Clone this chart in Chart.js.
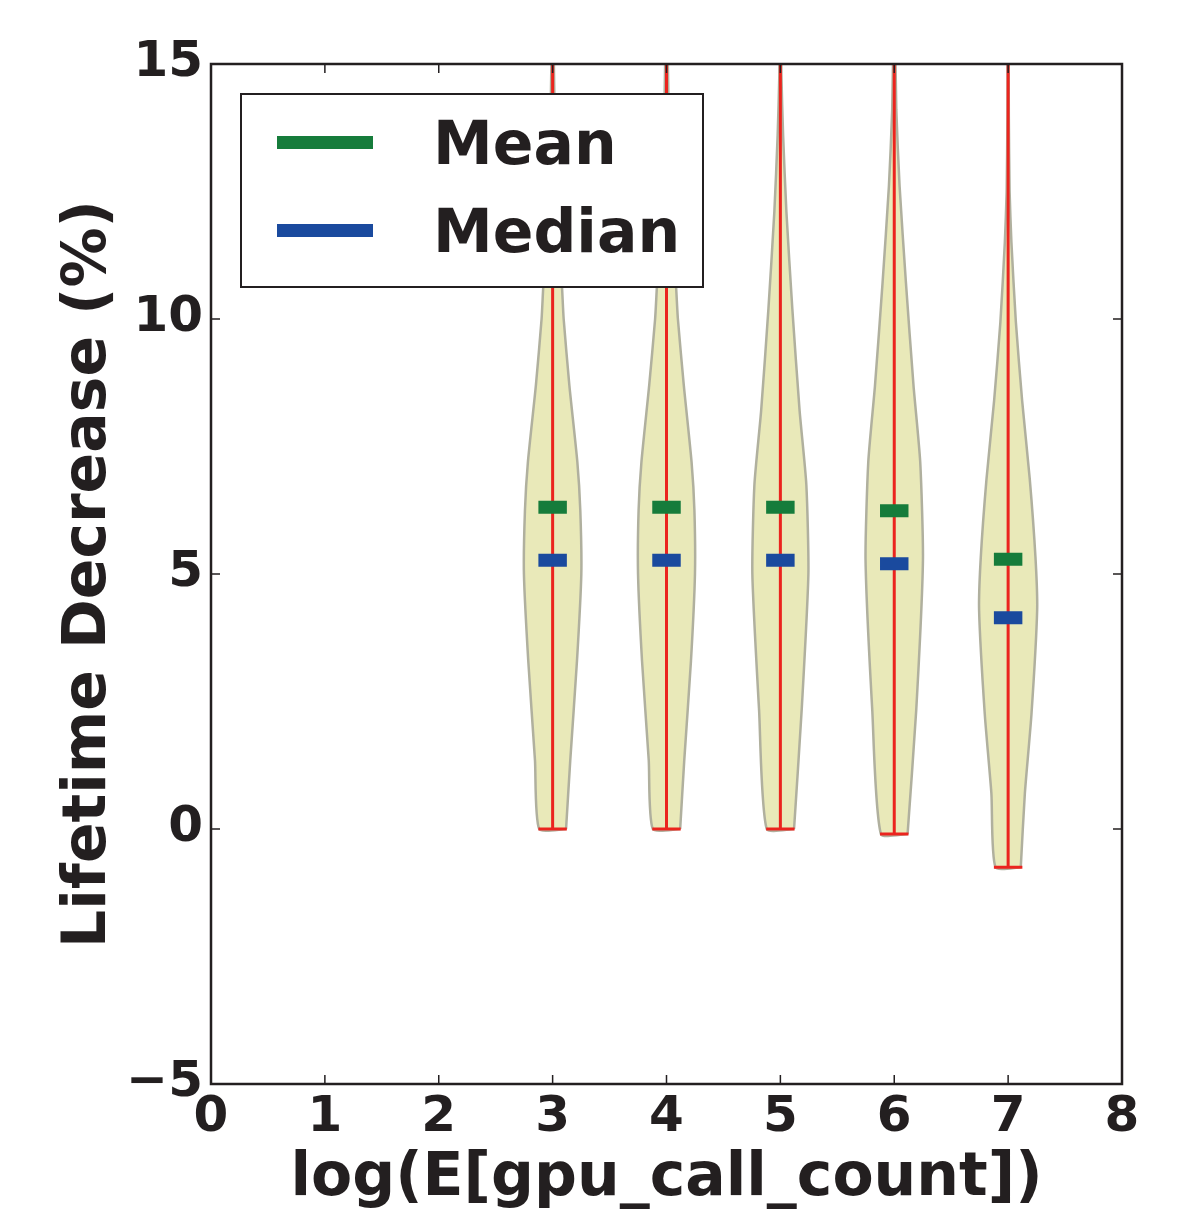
<!DOCTYPE html>
<html>
<head>
<meta charset="utf-8">
<script src="https://cdn.jsdelivr.net/npm/chart.js@4.4.0/dist/chart.umd.min.js"></script>
<style>
  html, body { margin: 0; padding: 0; background: #fff; }
</style>
</head>
<body>
<canvas id="violin-chart" width="1179" height="1216"></canvas>
<script>
// positions on the x axis (log of expected gpu call count)
const positions = [3, 4, 5, 6, 7];
const means = [6.31, 6.31, 6.31, 6.24, 5.29];
const medians = [5.27, 5.27, 5.27, 5.20, 4.14];
const mins = [0, 0, 0, -0.1, -0.75];
const maxs = [16, 16, 16, 16, 16];

// violin outlines: y levels and half widths (in x units)
const levels3 = [0, 1.35, 3.3, 5, 6.25, 7.2, 8.7, 10, 10.6, 12, 13.5, 15, 16];
const widths3 = [0.118, 0.155, 0.214, 0.252, 0.243, 0.217, 0.147, 0.097, 0.083, 0.044, 0.022, 0.011, 0.004];
const levels4 = [0, 1.35, 3.3, 5, 6.25, 7.2, 8.7, 10, 10.6, 12, 13.5, 15, 16];
const widths4 = [0.12, 0.156, 0.215, 0.25, 0.245, 0.22, 0.152, 0.1, 0.085, 0.048, 0.024, 0.012, 0.004];
const levels5 = [0, 2.33, 5, 6.75, 8.2, 10.2, 12.1, 13.6, 14.8, 16];
const widths5 = [0.12, 0.187, 0.246, 0.228, 0.169, 0.105, 0.053, 0.024, 0.009, 0.004];
const levels6 = [-0.1, 2.33, 5.27, 7.2, 8.7, 10.7, 12.6, 14.1, 16];
const widths6 = [0.117, 0.193, 0.252, 0.228, 0.169, 0.103, 0.047, 0.018, 0.004];
const levels7 = [-0.75, 0.7, 2.25, 4.3, 5.33, 6.86, 8.4, 9.94, 11.5, 12.5, 14, 16];
const widths7 = [0.111, 0.147, 0.205, 0.255, 0.24, 0.19, 0.123, 0.068, 0.029, 0.013, 0.006, 0.003];

const xTicks = [0, 1, 2, 3, 4, 5, 6, 7, 8];
const yTicks = [-5, 0, 5, 10, 15];

const allLevels = [levels3, levels4, levels5, levels6, levels7];
const allWidths = [widths3, widths4, widths5, widths6, widths7];

const ink = '#231f20';
const capHalf = 0.125;

function violinPoints(x, lv, wd) {
    const pts = [];
    for (let i = 0; i < lv.length; i++) pts.push({x: x + wd[i], y: lv[i]});
    for (let i = lv.length - 1; i >= 0; i--) pts.push({x: x - wd[i], y: lv[i]});
    pts.push({x: x + wd[0], y: lv[0]});
    return pts;
}

function barPoints(vals) {
    const pts = [];
    for (let i = 0; i < positions.length; i++) {
        pts.push({x: positions[i] - capHalf, y: vals[i]});
        pts.push({x: positions[i] + capHalf, y: vals[i]});
        pts.push({x: positions[i] + 0.5, y: null});
    }
    return pts;
}

const rangePts = [];
for (let i = 0; i < positions.length; i++) {
    rangePts.push({x: positions[i], y: mins[i]});
    rangePts.push({x: positions[i], y: maxs[i]});
    rangePts.push({x: positions[i], y: null});
    rangePts.push({x: positions[i] - capHalf, y: mins[i]});
    rangePts.push({x: positions[i] + capHalf, y: mins[i]});
    rangePts.push({x: positions[i] + 0.5, y: null});
}

const datasets = [];
datasets.push({
    label: 'Mean', data: barPoints(means), showLine: true,
    borderColor: 'rgb(22,124,59)', borderWidth: 13, borderCapStyle: 'butt',
    pointRadius: 0, order: 1, inLegend: true
});
datasets.push({
    label: 'Median', data: barPoints(medians), showLine: true,
    borderColor: 'rgb(26,74,158)', borderWidth: 13, borderCapStyle: 'butt',
    pointRadius: 0, order: 1, inLegend: true
});
datasets.push({
    label: 'range', data: rangePts, showLine: true,
    borderColor: 'rgb(235,36,30)', borderWidth: 3, borderCapStyle: 'butt',
    pointRadius: 0, order: 2
});
for (let i = 0; i < positions.length; i++) {
    datasets.push({
        label: 'violin' + positions[i],
        data: violinPoints(positions[i], allLevels[i], allWidths[i]),
        showLine: true, fill: 'shape', tension: 0.2,
        backgroundColor: 'rgb(233,233,185)', borderColor: 'rgb(176,176,158)', borderWidth: 2.5,
        pointRadius: 0, order: 3
    });
}

// frame, inward ticks and the legend box
const framePlugin = {
    id: 'frame',
    afterDraw(chart) {
        const ctx = chart.ctx;
        const a = chart.chartArea;
        const sx = chart.scales.x, sy = chart.scales.y;
        ctx.save();
        ctx.strokeStyle = ink;
        ctx.lineWidth = 1.5;
        ctx.beginPath();
        xTicks.forEach(v => {
            const px = sx.getPixelForValue(v);
            ctx.moveTo(px, a.bottom); ctx.lineTo(px, a.bottom - 9);
            ctx.moveTo(px, a.top); ctx.lineTo(px, a.top + 9);
        });
        yTicks.forEach(v => {
            const py = sy.getPixelForValue(v);
            ctx.moveTo(a.left, py); ctx.lineTo(a.left + 9, py);
            ctx.moveTo(a.right, py); ctx.lineTo(a.right - 9, py);
        });
        ctx.stroke();
        ctx.lineWidth = 2.5;
        ctx.strokeRect(a.left, a.top, a.right - a.left, a.bottom - a.top);

        // legend
        const bx = a.left + 30, by = a.top + 30, bw = 462, bh = 193;
        ctx.fillStyle = '#fff';
        ctx.fillRect(bx, by, bw, bh);
        ctx.lineWidth = 2;
        ctx.strokeRect(bx, by, bw, bh);
        const items = chart.data.datasets.filter(d => d.inLegend);
        ctx.font = 'bold 60px "DejaVu Sans"';
        ctx.textBaseline = 'alphabetic';
        items.forEach((d, i) => {
            const ly = by + 48.5 + i * 88;
            ctx.strokeStyle = d.borderColor;
            ctx.lineWidth = 13;
            ctx.lineCap = 'butt';
            ctx.beginPath();
            ctx.moveTo(bx + 36, ly); ctx.lineTo(bx + 132, ly);
            ctx.stroke();
            ctx.fillStyle = ink;
            ctx.fillText(d.label, bx + 192, ly + 21.5);
        });
        ctx.restore();
    }
};

new Chart(document.getElementById('violin-chart').getContext('2d'), {
    type: 'scatter',
    data: {datasets: datasets},
    options: {
        responsive: false,
        animation: false,
        layout: {padding: {top: 64, right: 57, left: 0, bottom: 0}},
        plugins: {legend: {display: false}, tooltip: {enabled: false}},
        scales: {
            x: {
                type: 'linear', min: 0, max: 8,
                afterBuildTicks: s => { s.ticks = xTicks.map(v => ({value: v})); },
                afterFit: s => { s.height = 132; },
                grid: {display: false, drawTicks: false},
                border: {display: false},
                ticks: {color: ink, padding: 4, font: {family: 'DejaVu Sans', size: 50, weight: 'bold'}, maxRotation: 0},
                title: {display: true, text: 'log(E[gpu_call_count])', color: ink, padding: {bottom: 1},
                    font: {family: 'DejaVu Sans', size: 60, weight: 'bold'}}
            },
            y: {
                type: 'linear', min: -5, max: 15,
                afterBuildTicks: s => { s.ticks = yTicks.map(v => ({value: v})); },
                afterFit: s => { s.width = 211; },
                grid: {display: false, drawTicks: false},
                border: {display: false},
                ticks: {color: ink, padding: 8, labelOffset: -1,
                    font: {family: 'DejaVu Sans', size: 50, weight: 'bold'},
                    callback: v => v < 0 ? '\u2212' + Math.abs(v) : String(v)},
                title: {display: true, text: 'Lifetime Decrease (%)', color: ink, padding: {top: 53},
                    font: {family: 'DejaVu Sans', size: 60, weight: 'bold'}}
            }
        }
    },
    plugins: [framePlugin]
});
</script>
</body>
</html>
